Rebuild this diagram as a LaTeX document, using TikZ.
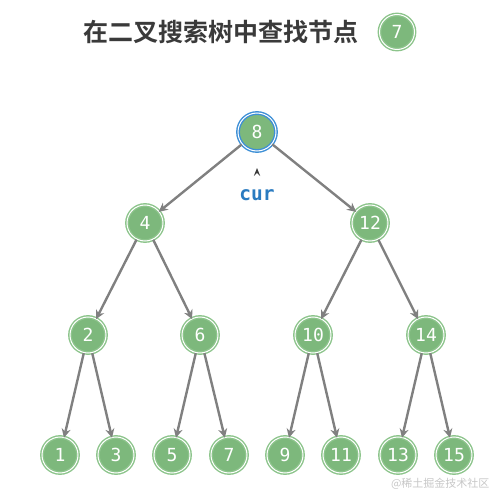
\documentclass[tikz,border=0pt]{standalone}
\usepackage{fontspec}
\newfontfamily\cjkbold{Noto Sans CJK SC Bold}
\newfontfamily\cjk{Noto Sans CJK SC}
\newfontfamily\numfont{DejaVu Sans Mono}
\newfontfamily\monob{DejaVu Sans Mono Bold}
\usetikzlibrary{arrows.meta}
\definecolor{nodegreen}{HTML}{7DB87C}
\definecolor{ringgreen}{HTML}{8CC48B}
\definecolor{ringblue}{HTML}{3D8FD6}
\definecolor{edgegrey}{HTML}{808080}
\definecolor{curblue}{HTML}{2A7BC0}
\definecolor{titlegrey}{HTML}{3A3A3A}
\tikzset{
  treenode/.style={circle, fill=nodegreen, draw=ringgreen, line width=1.4pt, double=white, double distance=1.0pt,
     minimum size=36pt, inner sep=0pt, text=white, font=\numfont\fontsize{18}{18}\selectfont},
  rootnode/.style={treenode, draw=ringblue, minimum size=38pt},
  edge/.style={draw=edgegrey, line width=2.4pt, -{Stealth[length=9pt,width=9pt]}, shorten >=-1pt},
}
\begin{document}
\begin{tikzpicture}[x=1pt,y=-1pt]
\useasboundingbox (0,0) rectangle (496,495);
\node[text=titlegrey, font=\cjkbold\fontsize{25}{25}\selectfont, anchor=center] (title) at (221,32) {在二叉搜索树中查找节点};
\node[treenode, minimum size=35pt] (target) at (397,32) {7};

\node[rootnode] (n8) at (257,132) {8};
\node[treenode] (n4) at (145,223) {4};
\node[treenode] (n12) at (370,223) {12};
\node[treenode] (n2) at (88,335) {2};
\node[treenode] (n6) at (200,335) {6};
\node[treenode] (n10) at (313,335) {10};
\node[treenode] (n14) at (426,335) {14};
\node[treenode] (n1) at (60,455) {1};
\node[treenode] (n3) at (116,455) {3};
\node[treenode] (n5) at (172,455) {5};
\node[treenode] (n7) at (229,455) {7};
\node[treenode] (n9) at (285,455) {9};
\node[treenode] (n11) at (341,455) {11};
\node[treenode] (n13) at (398,455) {13};
\node[treenode] (n15) at (454,455) {15};

\foreach \p/\c in {n8/n4, n8/n12, n4/n2, n4/n6, n12/n10, n12/n14, n2/n1, n2/n3, n6/n5, n6/n7, n10/n9, n10/n11, n14/n13, n14/n15}
  \draw[edge] (\p) -- (\c);

\coordinate (caret) at (257,168);
\fill[titlegrey] (caret) -- ++(3.2,8) -- ++(-3.2,-3) -- ++(-3.2,3) -- cycle;
\node[text=curblue, font=\monob\fontsize{19.5}{19.5}\selectfont] (cur) at (257,195) {cur};

\node[text=black!22, font=\cjk\fontsize{11}{11}\selectfont, anchor=east] (wm) at (493,484) {@稀土掘金技术社区};
\end{tikzpicture}
\end{document}
